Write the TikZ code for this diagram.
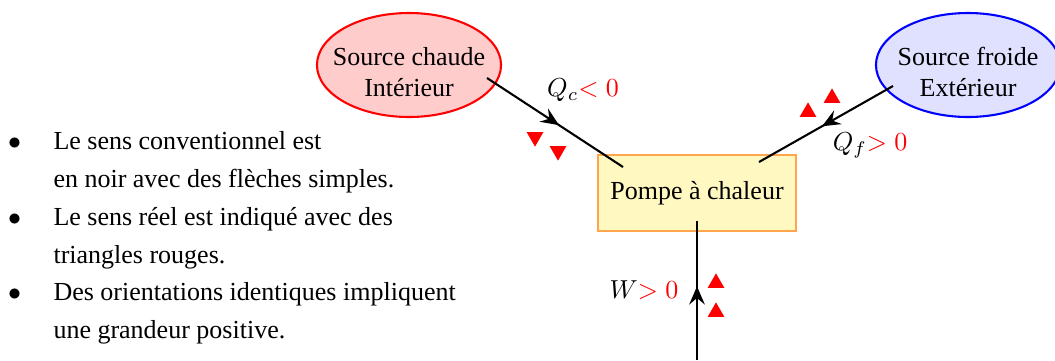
\documentclass[tikz,border=0pt]{standalone}
\usepackage[no-math]{fontspec}
\setmainfont{Liberation Serif}
\usepackage{amsmath,xcolor,tikz}
\usetikzlibrary{arrows.meta,positioning,shapes.geometric,calc,decorations.markings}
\definecolor{Cc}{HTML}{FFCCCC}
\definecolor{Fc}{HTML}{E0E0FF}
\definecolor{Pc}{HTML}{FFF8C0}
\definecolor{Pe}{HTML}{FFA64D}
\tikzset{
  source/.style={ellipse, thick, align=center, inner xsep=-5.4pt, inner ysep=0pt, minimum width=70.8pt, minimum height=40pt},
  chaude/.style={source, draw=red, fill=Cc},
  froide/.style={source, draw=blue, fill=Fc},
  pompe/.style={rectangle, draw=Pe, fill=Pc, semithick, inner sep=0pt, minimum width=76.2pt, minimum height=29.2pt},
  flux/.style={thick, postaction={decorate, decoration={markings,
      mark=at position 0.53 with {\arrow{Stealth[length=7pt,width=6pt,inset=2.5pt]}}}}},
  reel/.style={regular polygon, regular polygon sides=3, fill=red, inner sep=0pt, minimum size=7.4pt},
  reelbas/.style={reel, shape border rotate=180},
}

\begin{document}
\begin{tikzpicture}[x=0.3846pt, y=-0.3846pt]
  \useasboundingbox (0,0) rectangle (1055,360);
  % sources et machine
  \node[chaude] (chaude) at (409,65) {\rule{0pt}{12.6pt}Source chaude\\Intérieur};
  \node[froide] (froide) at (968,65) {\rule{0pt}{12.6pt}Source froide\\Extérieur};
  \node[pompe] (pompe) at (697,193) {Pompe à chaleur};
  % extremites des echanges
  \coordinate (qcA) at ($(chaude.center)+(78,13)$);
  \coordinate (qcB) at ($(pompe.center)+(-74,-26)$);
  \coordinate (qfA) at ($(froide.center)+(-75,21)$);
  \coordinate (qfB) at ($(pompe.center)+(62,-31)$);
  \coordinate (wA) at ($(pompe.center)+(0,167)$);
  \coordinate (wB) at ($(pompe.center)+(0,28)$);
  \draw[flux] (qcA) -- (qcB);
  \draw[flux] (qfA) -- (qfB);
  \draw[flux] (wA) -- (wB);
  \node (lqc) at (583,90) {$Q_c\textcolor{red}{<0}$};
  \node (lqf) at (870,145) {$Q_f\textcolor{red}{>0}$};
  \node (lw) at (644,290) {$W\textcolor{red}{>0}$};
  % sens reel
  \node[reelbas] (tc1) at (535,137) {};
  \node[reelbas] (tc2) at (558,151) {};
  \node[reel] (tf1) at (808,112) {};
  \node[reel] (tf2) at (832,98) {};
  \node[reel] (tw1) at (716,283) {};
  \node[reel] (tw2) at (716,312) {};
  % legende
  \node[anchor=north west, inner sep=0pt] (legende) at (7.5,122) {%
    \renewcommand{\arraystretch}{1.217}%
    \begin{tabular}{@{}l@{\hspace{12.5pt}}l@{}}
      $\bullet$ & Le sens conventionnel est\\
                & en noir avec des flèches simples.\\
      $\bullet$ & Le sens réel est indiqué avec des\\
                & triangles rouges.\\
      $\bullet$ & Des orientations identiques impliquent\\
                & une grandeur positive.
    \end{tabular}};
\end{tikzpicture}
\end{document}
